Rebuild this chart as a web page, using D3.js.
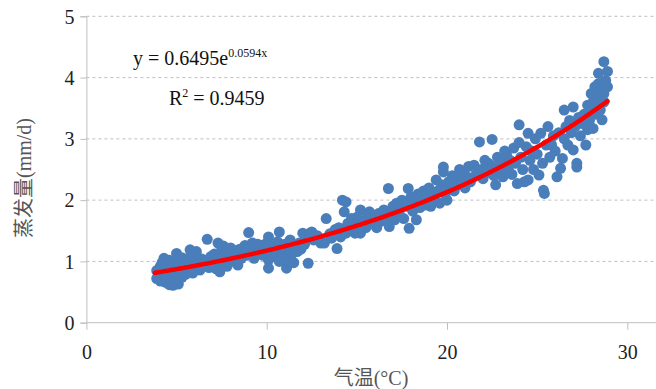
<!DOCTYPE html>
<html><head><meta charset="utf-8">
<script src="https://cdn.jsdelivr.net/npm/d3@7/dist/d3.min.js"></script>
<style>body{margin:0;background:#fff}svg{display:block}</style>
</head><body><svg id="c" width="656" height="389"></svg>
<script>
const xTicks=[0,10,20,30];
const yTicks=[0,1,2,3,4,5];
const xTitle="气温(°C)";
const yTitle="蒸发量(mm/d)";
const fitA=0.6495, fitB=0.0594, fitR2="0.9459";
const fitRange=[3.8,28.9];
const temp=[
3.9,3.9,4.0,4.1,4.1,4.2,4.2,4.3,4.3,4.4,4.4,4.5,4.5,4.6,4.6,4.7,4.7,4.8,4.8,4.9,4.9,5.0,5.0,5.0,5.1,5.1,5.2,5.2,5.3,5.3,5.4,5.5,5.5,5.6,5.7,5.75,5.8,5.9,5.9,6.0,6.1,6.2,6.3,6.4,6.5,
6.6,6.7,6.8,6.9,7.0,7.1,7.2,7.3,7.3,7.4,7.5,7.5,7.6,7.7,7.8,7.9,8.0,8.0,8.1,8.2,8.4,8.4,8.5,8.6,8.8,8.9,9.0,9.0,9.2,9.3,9.4,9.5,9.6,9.7,9.8,
10.0,10.1,10.1,10.1,10.2,10.3,10.4,10.5,10.6,10.7,10.7,10.8,10.9,11.0,11.1,11.1,11.2,11.3,11.4,11.5,11.6,11.7,11.8,11.9,12.0,12.1,12.2,12.3,12.4,12.5,12.6,12.8,13.0,13.2,13.3,
13.5,13.6,13.8,13.9,14.0,14.1,14.2,14.3,14.4,14.4,14.5,14.6,14.7,14.8,14.9,15.0,15.1,15.2,15.2,15.4,15.5,15.6,15.7,15.8,16.0,16.1,16.2,16.3,16.5,16.6,16.75,16.8,16.9,17.0,17.1,17.2,17.3,17.4,17.5,17.6,
17.8,17.85,17.9,18.0,18.1,18.2,18.3,18.4,18.5,18.6,18.7,18.8,18.9,19.0,19.1,19.2,19.3,19.4,19.5,19.6,19.7,19.8,19.8,19.9,20.0,20.1,20.2,20.3,20.4,20.5,20.6,20.7,20.8,20.9,21.0,21.1,21.2,21.3,21.5,21.6,
21.8,21.9,22.0,22.1,22.2,22.3,22.5,22.5,22.6,22.7,22.8,22.9,23.0,23.1,23.2,23.3,23.4,23.5,23.6,23.7,23.8,23.9,24.0,24.0,24.1,24.2,24.3,24.4,24.5,24.5,24.6,24.7,24.8,24.9,25.0,25.1,25.2,25.3,25.35,25.4,
25.5,25.6,25.7,25.8,25.9,26.0,26.1,26.2,26.3,26.4,26.5,26.5,26.6,26.7,26.8,26.9,27.0,27.0,27.1,27.2,27.2,27.3,27.4,27.5,27.6,27.7,27.8,27.8,27.9,28.0,28.0,28.1,28.1,28.2,28.2,28.3,28.3,28.4,28.4,28.5,28.5,28.6,28.6,28.7,28.7,28.7,28.8,28.9,28.9,28.5
];
const evap=[
0.72,0.85,0.78,0.92,0.68,0.98,0.75,1.05,0.86,0.66,0.80,0.94,0.72,1.02,0.62,0.84,0.70,0.61,0.95,0.78,0.66,1.13,0.88,0.72,1.00,0.63,0.82,0.93,0.74,1.06,0.88,0.97,0.79,1.04,0.90,1.19,0.98,0.81,1.08,0.90,1.16,0.97,0.86,1.04,0.93,
1.00,1.36,0.90,1.08,0.96,1.12,0.88,1.30,1.02,0.83,1.18,0.95,1.25,1.06,0.92,1.15,1.22,1.00,1.10,1.18,0.94,1.12,1.20,1.05,1.26,1.10,1.47,1.18,1.30,1.05,1.22,1.28,1.14,1.26,1.10,
1.30,1.40,0.89,1.02,1.18,1.25,1.08,1.15,1.32,1.48,1.00,1.22,1.10,1.28,0.89,1.05,1.18,1.35,1.12,0.98,1.25,1.16,1.30,1.20,1.46,1.28,1.38,0.97,1.46,1.48,1.35,1.42,1.30,1.30,1.70,
1.45,1.38,1.52,1.21,1.55,1.40,2.00,1.81,1.97,1.46,1.62,1.50,1.70,1.58,1.46,1.72,1.60,1.84,1.46,1.66,1.55,1.75,1.81,1.62,1.70,1.55,1.78,1.65,1.84,1.72,2.19,1.57,1.80,1.90,1.68,1.95,1.76,1.85,2.00,1.70,
1.90,2.19,1.54,2.05,1.82,1.95,1.68,2.10,1.88,2.00,2.15,1.92,2.05,2.20,1.90,2.10,2.00,2.33,2.15,1.95,2.25,2.46,2.54,2.10,2.00,2.30,2.20,2.40,2.15,2.35,2.25,2.50,2.30,2.45,2.20,2.38,2.55,2.30,2.57,2.42,
2.95,2.50,2.35,2.65,2.45,2.60,2.99,2.55,2.40,2.25,2.70,2.50,2.62,2.38,2.80,2.74,2.50,2.65,2.42,2.85,2.60,2.27,3.23,2.94,2.70,2.50,2.30,2.87,3.09,2.33,2.65,2.80,2.50,3.00,2.75,2.41,3.09,2.60,2.16,2.11,
2.90,3.20,2.70,2.90,3.05,2.80,2.38,3.10,2.52,2.68,3.47,3.00,3.20,2.90,3.30,3.10,3.52,2.82,3.20,2.60,2.54,3.35,3.05,3.25,3.40,2.90,3.15,3.55,3.30,3.74,3.45,3.17,3.60,3.85,3.40,3.70,3.55,4.07,3.90,3.47,3.90,3.31,3.75,4.26,3.74,3.60,3.95,4.10,3.85,3.65
];

const svg=d3.select("#c");
const x=d3.scaleLinear().domain([0,30]).range([86.4,627.3]);
const y=d3.scaleLinear().domain([0,5]).range([322.7,16.3]);
const axisCol="#bfbfbf";
const serif="'Liberation Serif','Times New Roman',serif";

// grid
svg.append("g").selectAll("line").data(yTicks.filter(d=>d>0)).join("line")
 .attr("x1",x(0)).attr("x2",656).attr("y1",d=>y(d)).attr("y2",d=>y(d))
 .attr("stroke",axisCol).attr("stroke-width",1).attr("stroke-dasharray","3,3");

// axes
const xa=svg.append("g").attr("transform",`translate(0,${y(0)})`)
 .call(d3.axisBottom(x).tickValues(xTicks).tickSize(7).tickFormat(d3.format("d")));
xa.select(".domain").attr("d",`M${x(0)},0H656`);
const ya=svg.append("g").attr("transform",`translate(${x(0)},0)`)
 .call(d3.axisLeft(y).tickValues(yTicks).tickSize(6).tickFormat(d3.format("d")));
[xa,ya].forEach(a=>{
 a.attr("font-family",null).attr("font-size",null);
 a.selectAll(".domain").attr("stroke",axisCol);
 a.selectAll(".tick line").attr("stroke",axisCol);
 a.selectAll("text").style("font-family",serif).style("font-size","20px").attr("fill","#222");
});
xa.selectAll(".tick text").attr("dy",0).attr("y",36);
ya.selectAll(".tick text").attr("x",-12).attr("dy","0.34em");

// points
const pts=temp.map((t,i)=>[t,evap[i]]);
svg.append("g").selectAll("circle").data(pts).join("circle")
 .attr("cx",d=>x(d[0])).attr("cy",d=>y(d[1])).attr("r",5.5).attr("fill","#4a7ebb");

// fit line
const fx=d3.range(fitRange[0],fitRange[1]+0.001,0.1);
svg.append("path").datum(fx)
 .attr("d",d3.line().x(d=>x(d)).y(d=>y(fitA*Math.exp(fitB*d))))
 .attr("fill","none").attr("stroke","#ff0000").attr("stroke-width",4.5).attr("stroke-linecap","round");

// equation
const eq=svg.append("text").attr("x",133).attr("y",65).style("font-family",serif).style("font-size","20px").attr("fill","#111");
eq.append("tspan").text(`y = ${fitA}e`);
eq.append("tspan").style("font-size","12px").attr("dy",-8).text(`${fitB}x`);
const r2=svg.append("text").attr("x",169).attr("y",105).style("font-family",serif).style("font-size","20px").attr("fill","#111");
r2.append("tspan").text("R");
r2.append("tspan").style("font-size","12px").attr("dy",-8).text("2");
r2.append("tspan").attr("dy",8).text(` = ${fitR2}`);

// titles
const tf="'Liberation Serif','Noto Sans CJK SC',serif";
svg.append("text").attr("x",371).attr("y",385).attr("text-anchor","middle")
 .style("font-family",tf).style("font-size","20px").attr("fill","#555").text(xTitle);
svg.append("text").attr("transform","translate(31,178) rotate(-90)").attr("text-anchor","middle")
 .style("font-family",tf).style("font-size","20px").attr("fill","#555").text(yTitle);
</script></body></html>
